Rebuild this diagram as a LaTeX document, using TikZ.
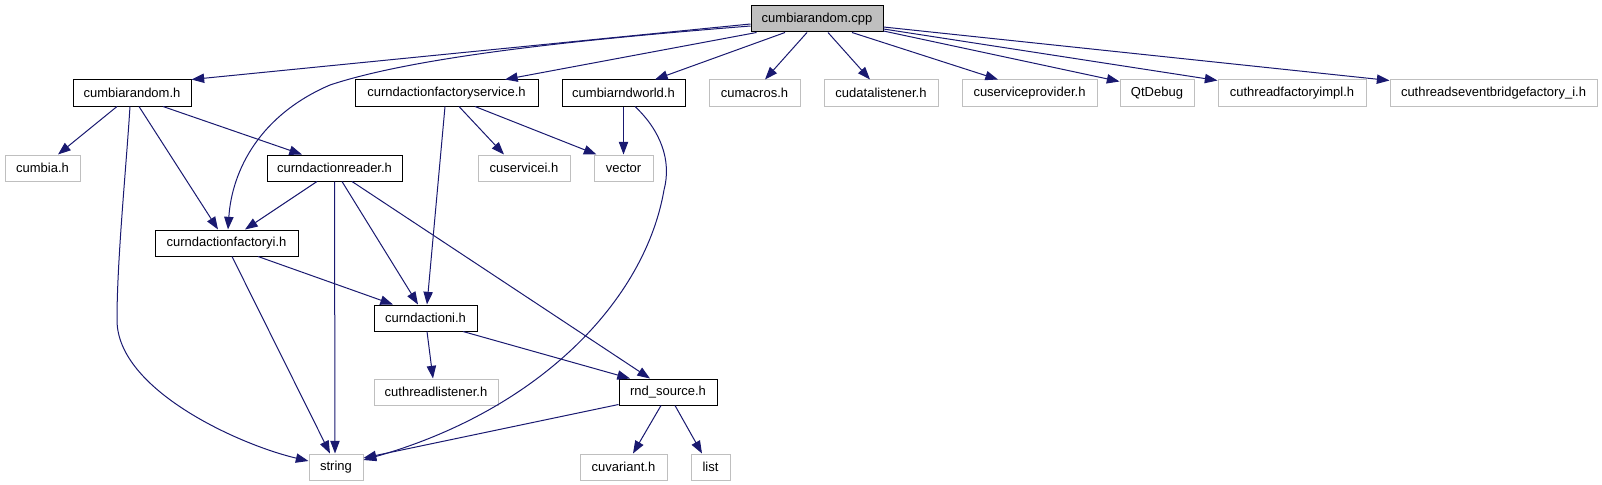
\documentclass[tikz,border=0pt]{standalone}
\usepackage{fontspec}
\setmainfont{Liberation Sans}
\usetikzlibrary{arrows.meta,calc}
\definecolor{edgeblue}{HTML}{191970}
\definecolor{lightborder}{HTML}{BFBFBF}
\definecolor{cppfill}{HTML}{BFBFBF}
\tikzset{
  base/.style={rectangle, inner sep=0pt, minimum height=19.5pt, line width=0.75pt, font=\fontsize{9.75}{11.5}\selectfont},
  docbox/.style={base, draw=black},
  extbox/.style={base, draw=lightborder},
  rootbox/.style={base, draw=black, fill=cppfill},
  dep/.style={draw=edgeblue, line width=0.75pt, -{Triangle[length=9.5pt,width=7pt]}, color=edgeblue},
}
\begin{document}
\begin{tikzpicture}[x=0.75pt, y=-0.75pt]
\useasboundingbox (0,0) rectangle (1602,485);
% row 0
\node[rootbox, minimum width=99pt] (cpp) at (817,19) {cumbiarandom.cpp};
% row 1
\node[docbox, minimum width=88.5pt] (crh) at (132,93) {cumbiarandom.h};
\node[docbox, minimum width=137.25pt] (cfs) at (446.5,93) {curndactionfactoryservice.h};
\node[docbox, minimum width=92.25pt] (crw) at (623.5,93) {cumbiarndworld.h};
\node[extbox, minimum width=68.25pt] (cma) at (754.5,93) {cumacros.h};
\node[extbox, minimum width=85.5pt] (cdl) at (881,93) {cudatalistener.h};
\node[extbox, minimum width=101.25pt] (csp) at (1029.5,93) {cuserviceprovider.h};
\node[extbox, minimum width=55.5pt] (qtd) at (1157,93) {QtDebug};
\node[extbox, minimum width=111pt] (ctf) at (1292,93) {cuthreadfactoryimpl.h};
\node[extbox, minimum width=155.25pt] (ceb) at (1493.5,93) {cuthreadseventbridgefactory\_i.h};
% row 2
\node[extbox, minimum width=56.25pt] (cum) at (42.5,168) {cumbia.h};
\node[docbox, minimum width=101.25pt] (crr) at (334.5,168) {curndactionreader.h};
\node[extbox, minimum width=69pt] (csi) at (524,168) {cuservicei.h};
\node[extbox, minimum width=44.25pt] (vec) at (623.5,168) {vector};
% row 3
\node[docbox, minimum width=107.25pt] (cfi) at (226.5,243) {curndactionfactoryi.h};
% row 4
\node[docbox, minimum width=77.25pt] (cai) at (425.5,318) {curndactioni.h};
% row 5
\node[extbox, minimum width=93pt] (ctl) at (436,392) {cuthreadlistener.h};
\node[docbox, minimum width=73.5pt] (rnd) at (668,392) {rnd\_source.h};
% row 6
\node[extbox, minimum width=40.5pt] (str) at (336,467) {string};
\node[extbox, minimum width=65.25pt] (cuv) at (623.5,467) {cuvariant.h};
\node[extbox, minimum width=29.25pt] (lst) at (710.5,467) {list};

% edges from cumbiarandom.cpp
\draw[dep] ($(cpp.west)+(0,5)$) -- (crh.north east);
\draw[dep] ($(cpp.west)+(0,7)$) .. controls (600,38) and (420,55) .. (330,85)
  .. controls (260,115) and (232,170) .. ($(cfi.north)+(1.5,0)$);
\draw[dep] ($(cpp.south west)+(6,0)$) -- ($(cfs.north)+(58.5,0)$);
\draw[dep] ($(cpp.south)+(-32,0)$) -- ($(crw.north)+(31.5,0)$);
\draw[dep] ($(cpp.south)+(-10,0)$) -- ($(cma.north)+(10.5,0)$);
\draw[dep] ($(cpp.south)+(11,0)$) -- ($(cdl.north)+(-11,0)$);
\draw[dep] ($(cpp.south)+(35,0)$) -- ($(csp.north)+(-31.5,0)$);
\draw[dep] ($(cpp.east)+(0,12)$) -- ($(qtd.north west)+(0,2)$);
\draw[dep] ($(cpp.east)+(0,10)$) -- ($(ctf.north west)+(0,1)$);
\draw[dep] ($(cpp.east)+(0,8)$) -- ($(ceb.north west)+(0,1)$);

% edges from cumbiarandom.h
\draw[dep] ($(crh.south)+(-15,0)$) -- ($(cum.north)+(15.5,0)$);
\draw[dep] ($(crh.south)+(-2,0)$) .. controls (126,170) and (117,260) .. (117,320)
  .. controls (117,390) and (240,445) .. ($(str.west)+(0,-6)$);
\draw[dep] ($(crh.south)+(7,0)$) -- ($(cfi.north)+(-8.5,0)$);
\draw[dep] ($(crh.south)+(31,0)$) -- ($(crr.north)+(-32.5,0)$);

% edges from curndactionfactoryservice.h
\draw[dep] ($(cfs.south)+(-1.5,0)$) -- ($(cai.north)+(1.5,0)$);
\draw[dep] ($(cfs.south)+(12.5,0)$) -- ($(csi.north)+(-20,0)$);
\draw[dep] ($(cfs.south)+(28.5,0)$) -- ($(vec.north west)+(3,0)$);

% edges from cumbiarndworld.h
\draw[dep] (crw.south) -- (vec.north);
\draw[dep] ($(crw.south)+(11.5,0)$) .. controls (660,130) and (672,160) .. (664,190)
  .. controls (645,300) and (540,410) .. ($(str.east)+(0,-7)$);

% edges from curndactionreader.h
\draw[dep] ($(crr.south)+(-17.5,0)$) -- ($(cfi.north)+(18.5,0)$);
\draw[dep] (crr.south) -- ($(str.north)+(-1,0)$);
\draw[dep] ($(crr.south)+(7.5,0)$) -- ($(cai.north)+(-7.5,0)$);
\draw[dep] ($(crr.south)+(17.5,0)$) -- ($(rnd.north)+(-18,0)$);

% edges from curndactionfactoryi.h
\draw[dep] ($(cfi.south)+(31.5,0)$) -- ($(cai.north)+(-32.5,0)$);
\draw[dep] ($(cfi.south)+(5.5,0)$) -- ($(str.north)+(-6,0)$);

% edges from curndactioni.h
\draw[dep] ($(cai.south)+(1.5,0)$) -- ($(ctl.north)+(-3,0)$);
\draw[dep] ($(cai.south)+(37.5,0)$) -- ($(rnd.north)+(-38,0)$);

% edges from rnd_source.h
\draw[dep] ($(rnd.south west)+(0,-1)$) -- ($(str.east)+(0,-9)$);
\draw[dep] ($(rnd.south)+(-7,0)$) -- ($(cuv.north)+(9.5,0)$);
\draw[dep] ($(rnd.south)+(7,0)$) -- ($(lst.north)+(-8.5,0)$);
\end{tikzpicture}
\end{document}
